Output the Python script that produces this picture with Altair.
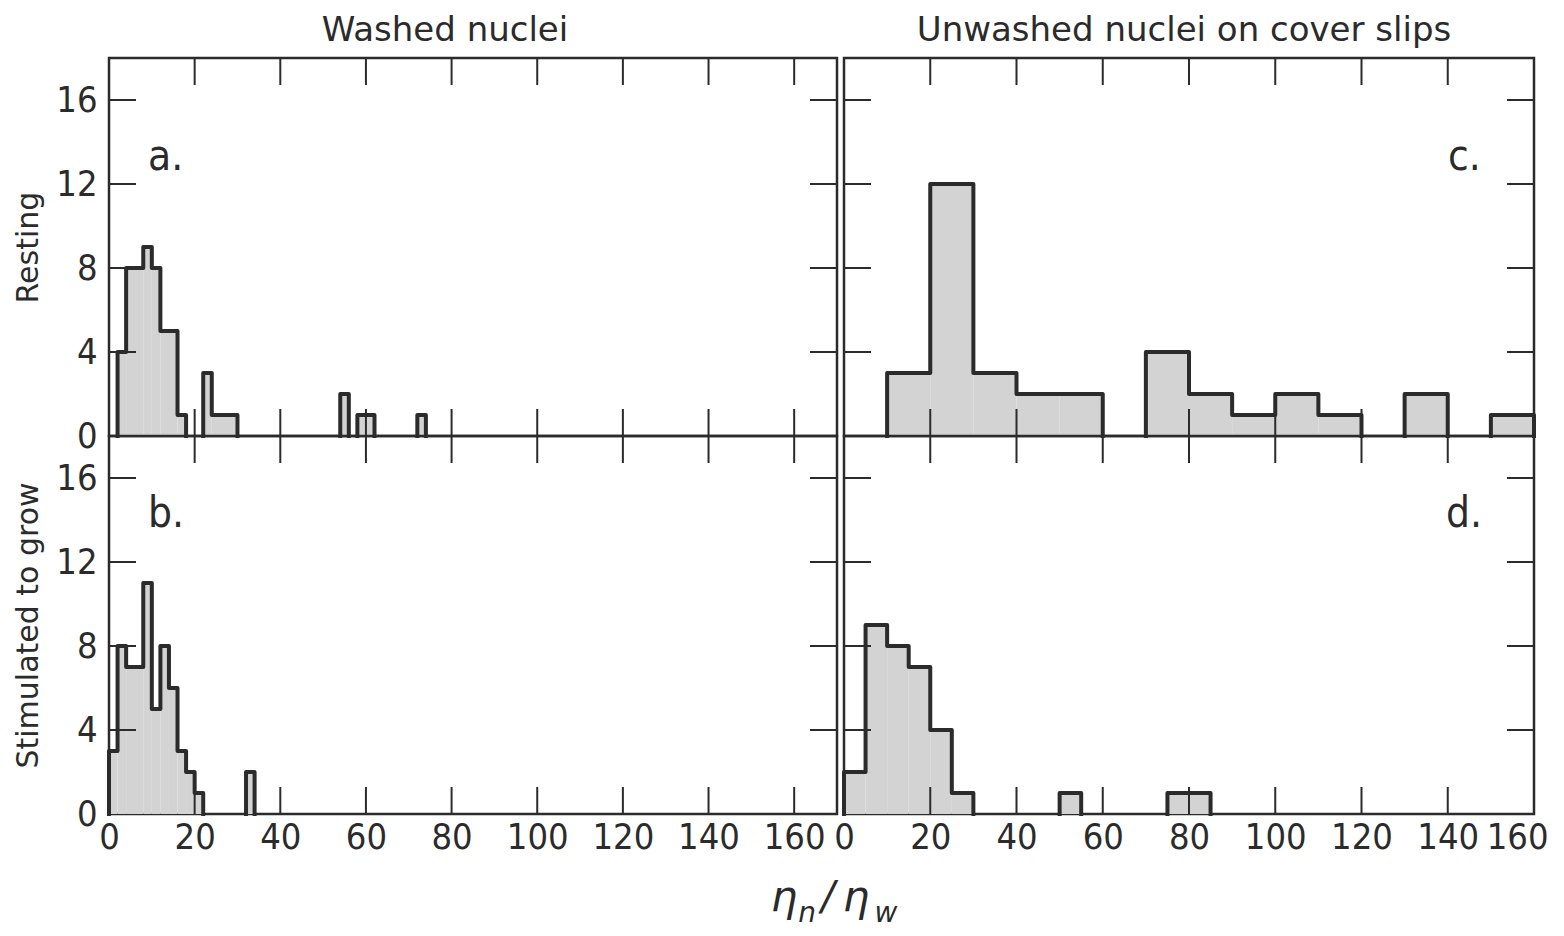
import altair as alt
import pandas as pd

# ---------------- data ----------------
# a. Washed nuclei, resting
a_left = [2, 4, 8, 10, 12, 16, 22, 24, 54, 58, 72]
a_right = [4, 8, 10, 12, 16, 18, 24, 30, 56, 62, 74]
a_count = [4, 8, 9, 8, 5, 1, 3, 1, 2, 1, 1]

# b. Washed nuclei, stimulated to grow
b_left = [0, 2, 4, 8, 10, 12, 14, 16, 18, 20, 32]
b_right = [2, 4, 8, 10, 12, 14, 16, 18, 20, 22, 34]
b_count = [3, 8, 7, 11, 5, 8, 6, 3, 2, 1, 2]

# c. Unwashed nuclei on cover slips, resting
c_left = [10, 20, 30, 40, 50, 70, 80, 90, 100, 110, 130, 150]
c_right = [20, 30, 40, 50, 60, 80, 90, 100, 110, 120, 140, 160]
c_count = [3, 12, 3, 2, 2, 4, 2, 1, 2, 1, 2, 1]

# d. Unwashed nuclei on cover slips, stimulated to grow
d_left = [0, 5, 10, 15, 20, 25, 50, 75, 80]
d_right = [5, 10, 15, 20, 25, 30, 55, 80, 85]
d_count = [2, 9, 8, 7, 4, 1, 1, 1, 1]

column_titles = ["Washed nuclei", "Unwashed nuclei on cover slips"]
row_titles = ["Resting", "Stimulated to grow"]
panel_letters = ["a.", "b.", "c.", "d."]
y_labels = [0, 4, 8, 12, 16]
x_labels = [0, 20, 40, 60, 80, 100, 120, 140, 160]
y_inner_ticks = [4, 8, 12, 16]
x_inner_ticks_left = [20, 40, 60, 80, 100, 120, 140, 160]
x_inner_ticks_right = [20, 40, 60, 80, 100, 120, 140]
x_title_parts = ["η", "n", "/", "η", "w"]

# ---------------- style ----------------
INK = "#2b2b2b"
FILL = "#d3d3d3"
FONT = "DejaVu Sans Condensed, DejaVu Sans"
TFONT = "DejaVu Sans"
TICK = 27
W_LEFT, W_RIGHT, H = 728, 690, 378
Y_MAX = 18


def outline(left, right, count):
    rows = []
    g = 0
    k = 0
    for i, (l, r, c) in enumerate(zip(left, right, count)):
        if i == 0 or l != right[i - 1]:
            if i > 0:
                rows.append(dict(g=g, k=k, x=right[i - 1], y=0)); k += 1
                g += 1
            rows.append(dict(g=g, k=k, x=l, y=0)); k += 1
        rows.append(dict(g=g, k=k, x=l, y=c)); k += 1
        rows.append(dict(g=g, k=k, x=r, y=c)); k += 1
    rows.append(dict(g=g, k=k, x=right[-1], y=0))
    return pd.DataFrame(rows)


def y_axis(title):
    if title is None:
        return None
    return alt.Axis(values=y_labels, title=title, labelFontSize=36, labelPadding=12,
                    labelFont=FONT, labelColor=INK, titleFont=TFONT, titleFontSize=30,
                    titleFontWeight="normal", titleColor=INK, titlePadding=12,
                    ticks=False, domain=False, grid=False, labelFlush=False,
                    labelOverlap=False)


def x_axis(show, last_right=False):
    if not show:
        return None
    kw = dict(values=x_labels, title=None, labelFontSize=36, labelPadding=6,
              labelFont=FONT, labelColor=INK, ticks=False, domain=False,
              grid=False, labelFlush=False, labelOverlap=False, labelBound=False)
    if last_right:
        kw["labelAlign"] = {"condition": {"test": "datum.value == 160", "value": "right"},
                            "value": "center"}
        kw["labelOffset"] = {"condition": {"test": "datum.value == 160", "value": 14},
                             "value": 0}
    return alt.Axis(**kw)


def panel(left, right, count, xmax, width, xticks, show_x, ytitle, letter, lx, ly,
          title=None, title_dx=0, extra=None, last_right=False):
    xs = alt.Scale(domain=[0, xmax], nice=False, zero=False)
    ys = alt.Scale(domain=[0, Y_MAX], nice=False)
    xa = x_axis(show_x, last_right)
    ya = y_axis(ytitle)
    bars = pd.DataFrame(dict(l=left, r=right, c=count))
    rect = alt.Chart(bars).mark_rect(fill=FILL).encode(
        x=alt.X("l:Q", scale=xs, axis=xa),
        x2="r:Q",
        y=alt.Y("c:Q", scale=ys, axis=ya),
        y2=alt.datum(0),
    )
    line = alt.Chart(outline(left, right, count)).mark_line(
        color=INK, strokeWidth=4, strokeJoin="round", strokeCap="square"
    ).encode(
        x=alt.X("x:Q", scale=xs, axis=xa),
        y=alt.Y("y:Q", scale=ys, axis=ya),
        detail="g:N",
        order="k:Q",
    )
    yt = pd.DataFrame(dict(v=y_inner_ticks))
    xt = pd.DataFrame(dict(v=xticks))
    rl = alt.Chart(yt).mark_rule(color=INK, strokeWidth=2).encode(
        y=alt.Y("v:Q", scale=ys, axis=ya), x=alt.value(0), x2=alt.value(TICK))
    rr = alt.Chart(yt).mark_rule(color=INK, strokeWidth=2).encode(
        y=alt.Y("v:Q", scale=ys, axis=ya), x=alt.value(width - TICK), x2=alt.value(width))
    rt = alt.Chart(xt).mark_rule(color=INK, strokeWidth=2).encode(
        x=alt.X("v:Q", scale=xs, axis=xa), y=alt.value(0), y2=alt.value(TICK))
    rb = alt.Chart(xt).mark_rule(color=INK, strokeWidth=2).encode(
        x=alt.X("v:Q", scale=xs, axis=xa), y=alt.value(H - TICK), y2=alt.value(H))
    lab = alt.Chart(pd.DataFrame(dict(t=[letter]))).mark_text(
        fontSize=42, font=FONT, color=INK, align="left", baseline="middle"
    ).encode(text="t:N", x=alt.value(lx), y=alt.value(ly))
    layers = [rect, line, rl, rr, rt, rb, lab]
    if extra is not None:
        layers += extra
    props = dict(width=width, height=H)
    if title is not None:
        props["title"] = alt.TitleParams(text=title, fontSize=34, font=TFONT,
                                         fontWeight="normal", color=INK,
                                         anchor="middle", offset=9, dx=title_dx)
    return alt.layer(*layers).properties(**props)


def xtitle_layers():
    specs = [  # (text, x, y, size)
        (x_title_parts[0], -60, 462, 42),
        (x_title_parts[1], -37, 478, 28),
        (x_title_parts[2], -16, 462, 40),
        (x_title_parts[3], 12, 462, 42),
        (x_title_parts[4], 42, 478, 28),
    ]
    out = []
    for t, x, y, s in specs:
        out.append(
            alt.Chart(pd.DataFrame(dict(t=[t]))).mark_text(
                fontSize=s, font=TFONT, fontStyle="italic", color=INK,
                align="center", baseline="middle"
            ).encode(text="t:N", x=alt.value(x), y=alt.value(y))
        )
    return out


pa = panel(a_left, a_right, a_count, 170, W_LEFT, x_inner_ticks_left, False,
           row_titles[0], panel_letters[0], 39, 99, title=column_titles[0], title_dx=-28)
pc = panel(c_left, c_right, c_count, 160, W_RIGHT, x_inner_ticks_right, False,
           None, panel_letters[2], 604, 99, title=column_titles[1], title_dx=-5)
pb = panel(b_left, b_right, b_count, 170, W_LEFT, x_inner_ticks_left, True,
           row_titles[1], panel_letters[1], 39, 78)
pd_ = panel(d_left, d_right, d_count, 160, W_RIGHT, x_inner_ticks_right, True,
            None, panel_letters[3], 602, 78, extra=xtitle_layers(), last_right=True)

chart = alt.concat(pa, pc, pb, pd_, columns=2, spacing={"row": 0, "column": 7},
                   bounds="flush").properties(
    padding={"left": 4, "top": 4, "right": 0, "bottom": 0},
    background="white",
).configure_view(stroke=INK, strokeWidth=2.5)

chart.save("out.html", embed_options={"renderer": "svg", "actions": False})
